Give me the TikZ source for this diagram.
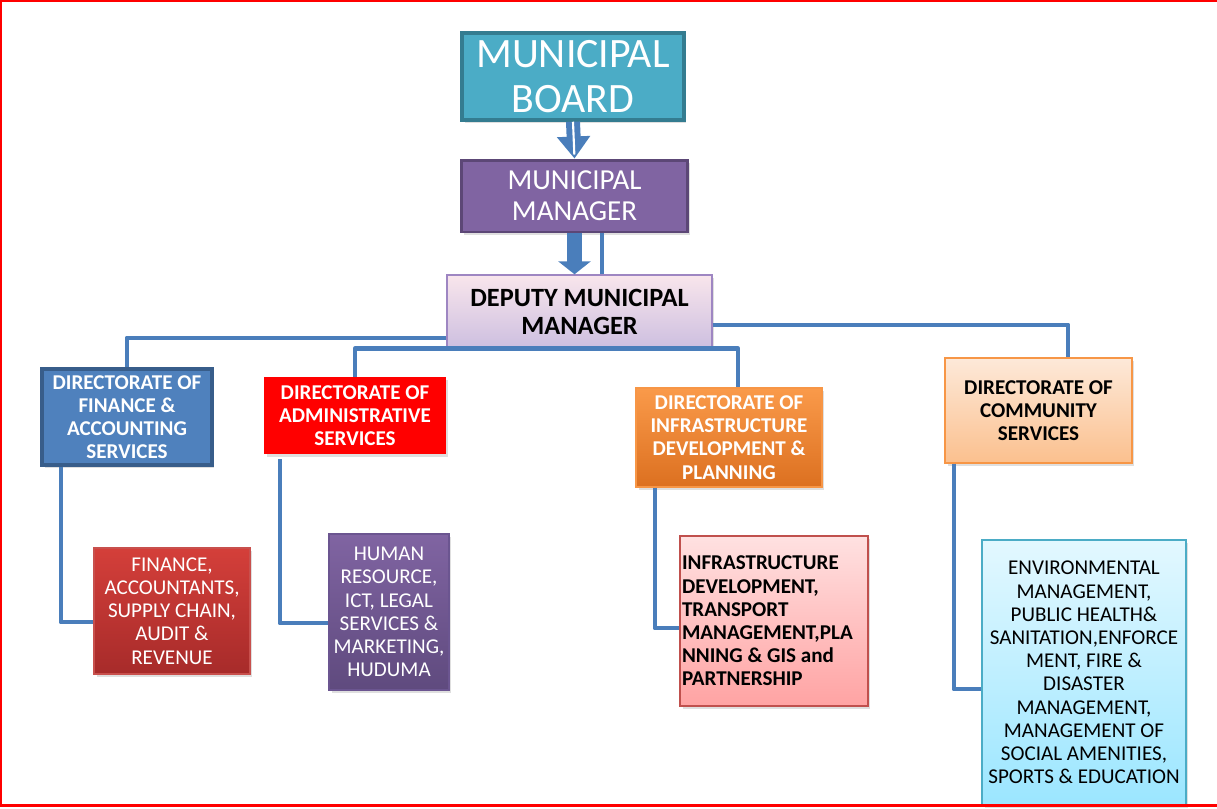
\documentclass[tikz,border=0pt]{standalone}
\usepackage{fontspec}
\setmainfont{Carlito}
\usetikzlibrary{arrows.meta,shadows}
\definecolor{linkblue}{RGB}{74,126,187}
\definecolor{boardfill}{RGB}{75,172,198}
\definecolor{boarddraw}{RGB}{52,124,144}
\definecolor{mgrfill}{RGB}{128,100,162}
\definecolor{mgrdraw}{RGB}{92,71,118}
\definecolor{finfill}{RGB}{79,129,189}
\definecolor{findraw}{RGB}{56,93,138}
\definecolor{orangedraw}{RGB}{247,150,70}
\begin{document}
\begin{tikzpicture}[x=0.02cm,y=-0.02cm,
    box/.style={rectangle, inner sep=1pt, align=center,
      font=\fontsize{12}{13.2}\selectfont,
      drop shadow={opacity=0.25,shadow xshift=0.05cm,shadow yshift=-0.06cm}},
    dirbox/.style={box, font=\fontsize{12}{13.2}\selectfont\bfseries},
    link/.style={draw=linkblue, line width=2.8pt, line join=round}]
    \useasboundingbox (0,0) rectangle (1217,808);

    % Drawing box Municipal Board
    \node (board) [box, fill=boardfill, draw=boarddraw, line width=2pt, text=white,
      minimum width=4.44cm, minimum height=1.74cm,
      font=\fontsize{23.8}{26}\selectfont] at (573,76.5) {MUNICIPAL\\BOARD};

    % Drawing box Municipal Manager
    \node (manager) [box, fill=mgrfill, draw=mgrdraw, line width=1.7pt, text=white,
      minimum width=4.54cm, minimum height=1.44cm,
      font=\fontsize{16.5}{17.6}\selectfont] at (574.5,196) {MUNICIPAL\\MANAGER};

    % Drawing box Deputy Municipal Manager
    \node (deputy) [box, top color=purple!10!white, bottom color={rgb,255:red,205;green,191;blue,224},
      draw={rgb,255:red,158;green,134;blue,194}, line width=0.8pt,
      minimum width=5.30cm, minimum height=1.46cm,
      font=\fontsize{15}{15.9}\selectfont\bfseries] at (579.5,311.5) {DEPUTY MUNICIPAL\\MANAGER};

    % Drawing directorates
    \node (dirFin) [dirbox, fill=finfill, draw=findraw, line width=2.2pt, text=white,
      minimum width=3.40cm, minimum height=1.92cm] at (127,417)
      {DIRECTORATE OF\\FINANCE \&\\ACCOUNTING\\SERVICES};
    \node (dirAdm) [dirbox, fill=red, text=white,
      minimum width=3.64cm, minimum height=1.54cm] at (355,415.5)
      {DIRECTORATE OF\\ADMINISTRATIVE\\SERVICES};
    \node (dirInf) [dirbox, top color={rgb,255:red,250;green,154;blue,74},
      bottom color={rgb,255:red,220;green,112;blue,32}, draw=orangedraw, line width=0.8pt, text=white,
      minimum width=3.72cm, minimum height=1.98cm] at (729,437.5)
      {DIRECTORATE OF\\INFRASTRUCTURE\\DEVELOPMENT \&\\PLANNING};
    \node (dirCom) [dirbox, top color={rgb,255:red,253;green,233;blue,217},
      bottom color={rgb,255:red,251;green,192;blue,142}, draw=orangedraw, line width=0.8pt,
      minimum width=3.74cm, minimum height=2.10cm] at (1038.5,410.5)
      {DIRECTORATE OF\\COMMUNITY\\SERVICES};

    % Drawing sections
    \node (subFin) [box, top color={rgb,255:red,212;green,63;blue,58},
      bottom color={rgb,255:red,167;green,43;blue,42}, draw={rgb,255:red,200;green,80;blue,77},
      line width=0.8pt, text=white,
      minimum width=3.12cm, minimum height=2.52cm] at (172,611)
      {FINANCE,\\ACCOUNTANTS,\\SUPPLY CHAIN,\\AUDIT \&\\REVENUE};
    \node (subAdm) [box, top color=mgrfill, bottom color={rgb,255:red,95;green,74;blue,126},
      draw={rgb,255:red,107;green,85;blue,144}, line width=0.8pt, text=white,
      minimum width=2.40cm, minimum height=3.12cm] at (389,612)
      {HUMAN\\RESOURCE,\\ICT, LEGAL\\SERVICES \&\\MARKETING,\\HUDUMA};
    \node (subInf) [box, top color={rgb,255:red,255;green,225;blue,225},
      bottom color={rgb,255:red,255;green,163;blue,163}, draw={rgb,255:red,192;green,80;blue,77},
      line width=0.8pt, align=flush left, text width=3.68cm,
      font=\fontsize{12}{13.2}\selectfont\bfseries,
      minimum width=3.76cm, minimum height=3.40cm] at (774,621)
      {INFRASTRUCTURE\\DEVELOPMENT,\\TRANSPORT\\MANAGEMENT,PLA\\NNING \& GIS and\\PARTNERSHIP};
    \node (subCom) [box, top color={rgb,255:red,227;green,248;blue,255},
      bottom color={rgb,255:red,155;green,230;blue,255}, draw=boardfill, line width=0.8pt,
      minimum width=4.08cm, minimum height=5.30cm] at (1084,672.5)
      {ENVIRONMENTAL\\MANAGEMENT,\\PUBLIC HEALTH\&\\SANITATION,ENFORCE\\MENT, FIRE \&\\DISASTER\\MANAGEMENT,\\MANAGEMENT OF\\SOCIAL AMENITIES,\\SPORTS \& EDUCATION};

    % Drawing arrow board -> manager
    \draw [linkblue, line width=0.28cm, -{Triangle[width=0.64cm,length=0.44cm]}] (board.south) -- (manager.north);%
    \draw [white, line width=1.2pt, shorten >=0.08cm] (board.south) -- (manager.north);%

    % Drawing arrow manager -> deputy
    \draw [linkblue, line width=0.30cm, -{Triangle[width=0.64cm,length=0.26cm]}] (manager.south) -- (manager.south |- deputy.north);%
    \draw [link, line width=2.2pt] (602,0 |- manager.south) -- (602,0 |- deputy.north);%

    % Drawing links deputy -> directorates
    \draw [link] (deputy.west |- 0,338) -| (dirFin.north);%
    \draw [link] (dirAdm.north) |- (deputy.south) -| (738,0 |- dirInf.north);%
    \draw [link] (deputy.east |- 0,325) -| (1068,0 |- dirCom.north);%

    % Drawing links directorates -> sections
    \draw [link] (61,0 |- dirFin.south) |- (subFin.west |- 0,622);%
    \draw [link] (280,459) |- (subAdm.west |- 0,623);%
    \draw [link] (655,0 |- dirInf.south) |- (subInf.west |- 0,628);%
    \draw [link] (954,0 |- dirCom.south) |- (subCom.west |- 0,689);%

    % Drawing frame (open on the right)
    \draw [red, line width=1.7pt] (1260,0.5) -- (1,0.5) -- (1,805.5) -- (1260,805.5);%
\end{tikzpicture}
\end{document}
